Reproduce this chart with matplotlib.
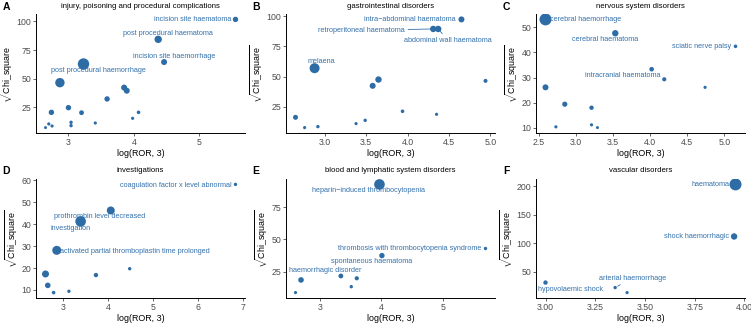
import matplotlib
matplotlib.use('Agg')
import matplotlib.pyplot as plt
import numpy as np

plt.rcParams['font.family'] = ['Liberation Sans', 'DejaVu Sans']
plt.rcParams['mathtext.fontset'] = 'custom'
plt.rcParams['mathtext.rm'] = 'Liberation Sans'
plt.rcParams['mathtext.it'] = 'Liberation Sans:italic'
plt.rcParams['mathtext.bf'] = 'Liberation Sans:bold'

# ---------------- data ----------------
A_title = "injury, poisoning and procedural complications"
A_x = [5.55, 4.37, 4.46, 3.23, 2.87, 3.85, 3.89, 3.59, 2.74, 3.00, 3.20, 4.07, 3.98, 3.04, 3.04, 3.41, 2.70, 2.75, 2.65]
A_y = [101.7, 84.3, 64.5, 62.8, 46.5, 42.2, 39.5, 32.3, 20.6, 24.7, 20.3, 20.6, 15.4, 11.9, 9.0, 11.3, 10.5, 8.7, 7.3]
A_n = [2.7, 3.7, 3.0, 5.7, 4.7, 3.0, 3.0, 2.7, 2.7, 2.7, 2.4, 1.8, 1.6, 1.7, 1.7, 1.6, 1.6, 1.6, 1.5]
A_lab = {0: "incision site haematoma", 1: "post procedural haematoma",
         2: "incision site haemorrhage", 4: "post procedural haemorrhage"}
A_xticks = [3, 4, 5]
A_yticks = [25, 50, 75, 100]

B_title = "gastrointestinal disorders"
B_x = [4.65, 4.31, 4.37, 2.88, 3.65, 3.58, 4.94, 2.65, 2.76, 2.92, 3.38, 3.49, 3.94, 4.35]
B_y = [97.3, 89.4, 89.4, 56.9, 47.5, 42.3, 46.4, 16.2, 7.7, 8.5, 11.0, 13.7, 21.2, 18.7]
B_n = [3.0, 3.2, 3.2, 5.0, 3.2, 3.0, 2.0, 2.5, 1.6, 1.7, 1.6, 1.7, 1.8, 1.6]
B_lab = {0: "intra\u2212abdominal haematoma", 1: "retroperitoneal haematoma",
         2: "abdominal wall haematoma", 3: "melaena"}
B_xticks = [3.0, 3.5, 4.0, 4.5, 5.0]
B_yticks = [25, 50, 75, 100]

C_title = "nervous system disorders"
C_x = [2.59, 3.53, 5.15, 4.02, 4.19, 4.74, 2.59, 2.85, 3.21, 2.73, 3.21, 3.29]
C_y = [53.1, 47.6, 42.4, 33.3, 29.3, 26.1, 26.1, 19.4, 18.0, 10.4, 11.2, 10.1]
C_n = [6.0, 3.2, 1.8, 2.3, 2.1, 1.6, 3.0, 2.6, 2.2, 1.6, 1.6, 1.5]
C_lab = {0: "cerebral haemorrhage", 1: "cerebral haematoma",
         2: "sciatic nerve palsy", 4: "intracranial haematoma"}
C_xticks = [2.5, 3.0, 3.5, 4.0, 4.5, 5.0]
C_yticks = [10, 20, 30, 40, 50]

D_title = "investigations"
D_x = [6.83, 4.06, 3.39, 2.86, 2.61, 2.66, 2.79, 3.13, 3.73, 4.48]
D_y = [58.2, 46.3, 41.3, 28.1, 17.3, 12.1, 8.8, 9.4, 16.8, 19.7]
D_n = [1.7, 4.0, 5.3, 4.5, 3.5, 2.8, 1.8, 1.7, 2.2, 1.7]
D_lab = {0: "coagulation factor x level abnormal", 1: "prothrombin level decreased",
         2: "investigation", 3: "activated partial thromboplastin time prolonged"}
D_xticks = [3, 4, 5, 6, 7]
D_yticks = [10, 20, 30, 40, 50, 60]

E_title = "blood and lymphatic system disorders"
E_x = [3.97, 5.70, 4.01, 2.69, 3.34, 3.60, 3.51, 2.60]
E_y = [92.6, 42.9, 37.4, 18.5, 21.6, 19.8, 13.3, 8.7]
E_n = [5.3, 1.7, 2.7, 2.8, 2.4, 2.1, 1.7, 1.6]
E_lab = {0: "heparin\u2212induced thrombocytopenia", 1: "thrombosis with thrombocytopenia syndrome",
         2: "spontaneous haematoma", 3: "haemorrhagic disorder"}
E_xticks = [3, 4, 5]
E_yticks = [25, 50, 75]

F_title = "vascular disorders"
F_x = [3.955, 3.948, 3.00, 3.35, 3.41]
F_y = [202.9, 111.5, 30.6, 21.8, 13.0]
F_n = [6.0, 3.2, 2.2, 1.7, 1.6]
F_lab = {0: "haematoma", 1: "shock haemorrhagic", 2: "hypovolaemic shock", 3: "arterial haemorrhage"}
F_xticks = [3.00, 3.25, 3.50, 3.75, 4.00]
F_yticks = [50, 100, 150, 200]

# ---------------- layout (label offsets in pixels) ----------------
# index: (dx, dy, ha, segment)
A_pos = {0: (-4, 0, 'right', False), 1: (10, 5.5, 'center', False),
         2: (10, 5.5, 'center', False), 4: (39, 12, 'center', False)}
B_pos = {0: (-6, 0, 'right', False), 1: (-72, -1.5, 'center', True),
         2: (10, -11.5, 'center', True), 3: (6.5, 6.5, 'center', False)}
C_pos = {0: (5, 0, 'left', False), 1: (-10, -6.3, 'center', False),
         2: (-4, 0, 'right', False), 4: (-4, 3.3, 'right', False)}
D_pos = {0: (-4, -1, 'right', False), 1: (-11, -6, 'center', False),
         2: (-10, -6.7, 'center', False), 3: (3, -1, 'left', False)}
E_pos = {0: (-11, -5.7, 'center', False), 1: (-4.5, 0, 'right', False),
         2: (-10, -6.3, 'center', False), 3: (24, 9.7, 'center', False)}
F_pos = {0: (-6, 0, 'right', False), 1: (-4.5, 0, 'right', False),
         2: (25, -7, 'center', False), 3: (17, 9.5, 'center', True)}

PT = "#2E6CA5"
TXT = "#3572AC"
TICKC = "#4D4D4D"

W, H = 751, 326
fig = plt.figure(figsize=(W / 100, H / 100), dpi=100)

panels = [
    ("A", A_title, A_x, A_y, A_n, A_lab, A_pos, A_xticks, A_yticks, None),
    ("B", B_title, B_x, B_y, B_n, B_lab, B_pos, B_xticks, B_yticks, "%.1f"),
    ("C", C_title, C_x, C_y, C_n, C_lab, C_pos, C_xticks, C_yticks, "%.1f"),
    ("D", D_title, D_x, D_y, D_n, D_lab, D_pos, D_xticks, D_yticks, None),
    ("E", E_title, E_x, E_y, E_n, E_lab, E_pos, E_xticks, E_yticks, None),
    ("F", F_title, F_x, F_y, F_n, F_lab, F_pos, F_xticks, F_yticks, "%.2f"),
]

lefts = [36, 286, 536]
width = 209
rows = [(14, 133), (179, 298)]

for i, (letter, title, xs, ys, ns, labs, pos, xt, yt, fmt) in enumerate(panels):
    r, c = divmod(i, 3)
    top, bot = rows[r]
    l = lefts[c]
    ax = fig.add_axes([l / W, 1 - bot / H, width / W, (bot - top) / H])
    xs = np.array(xs); ys = np.array(ys); ns = np.array(ns)
    s = (2 * ns * 0.72) ** 2
    ax.scatter(xs, ys, s=s, color=PT, edgecolors='none', zorder=3)
    xr = xs.max() - xs.min(); yr = ys.max() - ys.min()
    ax.set_xlim(xs.min() - 0.05 * xr, xs.max() + 0.05 * xr)
    ax.set_ylim(ys.min() - 0.05 * yr, ys.max() + 0.05 * yr)
    ax.set_xticks(xt)
    ax.set_yticks(yt)
    if fmt:
        ax.set_xticklabels([fmt % v for v in xt])
    for sp in ['top', 'right']:
        ax.spines[sp].set_visible(False)
    for sp in ['left', 'bottom']:
        ax.spines[sp].set_linewidth(0.7)
        ax.spines[sp].set_color('black')
    ax.tick_params(axis='both', length=2.2, width=0.6, color=TICKC, labelcolor=TICKC,
                   labelsize=6.3, pad=1.2)
    ax.set_xlabel("log(ROR, 3)", fontsize=6.4, labelpad=1.5)
    ax.set_ylabel(r"$\sqrt{\mathrm{Chi\_square}}$", fontsize=6.4, labelpad=0.8)
    for k, name in labs.items():
        dx, dy, ha, seg = pos[k]
        kw = {}
        if seg:
            kw['arrowprops'] = dict(arrowstyle='-', color=TXT, lw=0.6, shrinkA=0.5, shrinkB=2.0)
        ax.annotate(name, (xs[k], ys[k]), xytext=(dx, dy), textcoords='offset pixels',
                    ha=ha, va='center', fontsize=5.2, color=TXT, zorder=4,
                    annotation_clip=False, **kw)
    cx = (l + width / 2) / W
    fig.text(cx, 1 - (top - 8) / H, title, ha='center', va='center', fontsize=5.6)
    fig.text((l - 30) / W, 1 - (top - 7.5) / H, letter, ha='center', va='center',
             fontsize=7.5, fontweight='bold')

fig.savefig("out.png", dpi=100)
